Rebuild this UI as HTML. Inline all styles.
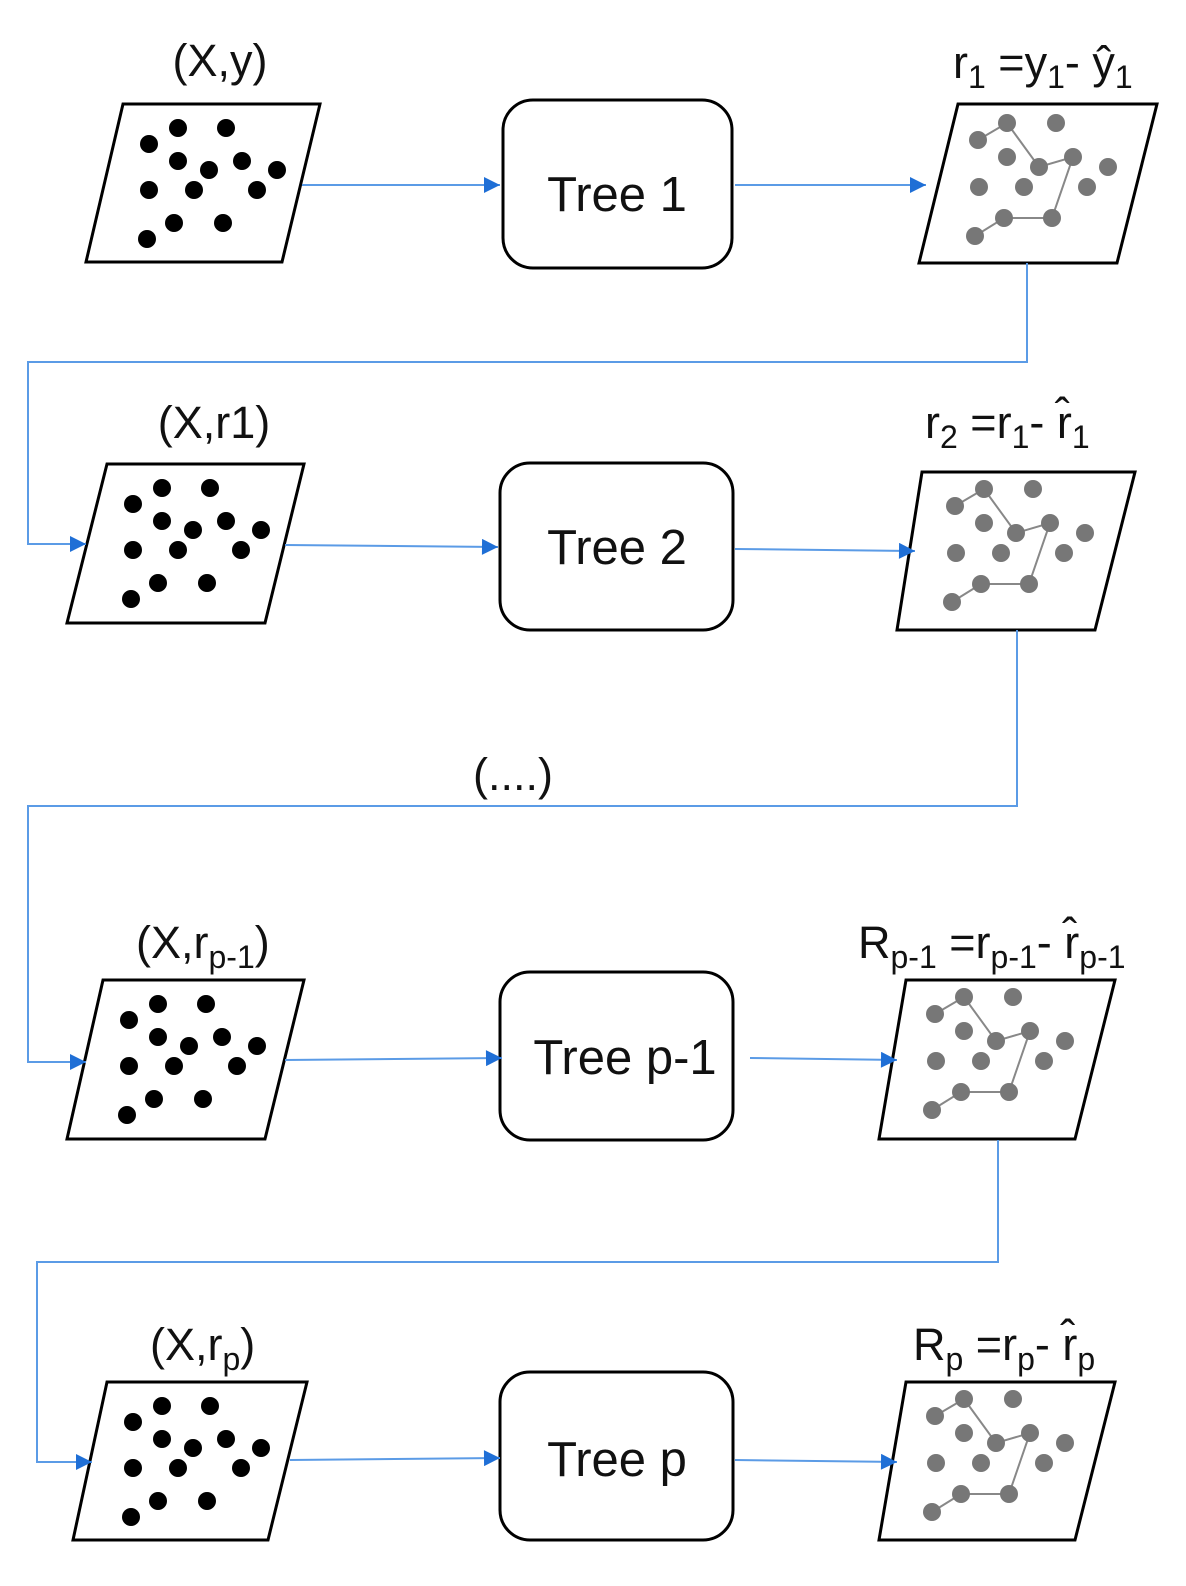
<!DOCTYPE html>
<html><head><meta charset="utf-8"><style>html,body{margin:0;padding:0;background:#fff}svg{display:block}</style></head>
<body>
<svg width="1186" height="1586" viewBox="0 0 1186 1586" xmlns="http://www.w3.org/2000/svg" font-family="Liberation Sans, DejaVu Sans, sans-serif">
<defs>
<g id="bd" fill="#000">
<circle cx="55" cy="24" r="9"/><circle cx="103" cy="24" r="9"/><circle cx="26" cy="40" r="9"/><circle cx="55" cy="57" r="9"/><circle cx="86" cy="66" r="9"/><circle cx="119" cy="57" r="9"/><circle cx="154" cy="66" r="9"/><circle cx="26" cy="86" r="9"/><circle cx="71" cy="86" r="9"/><circle cx="134" cy="86" r="9"/><circle cx="51" cy="119" r="9"/><circle cx="100" cy="119" r="9"/><circle cx="24" cy="135" r="9"/>
</g>
<g id="gd">
<polyline points="20,36 49,19 81,63 115,53 94,114 46,114 17,132" fill="none" stroke="#888" stroke-width="2"/>
<g fill="#777">
<circle cx="49" cy="19" r="9"/><circle cx="98" cy="19" r="9"/><circle cx="20" cy="36" r="9"/><circle cx="49" cy="53" r="9"/><circle cx="81" cy="63" r="9"/><circle cx="115" cy="53" r="9"/><circle cx="150" cy="63" r="9"/><circle cx="21" cy="83" r="9"/><circle cx="66" cy="83" r="9"/><circle cx="129" cy="83" r="9"/><circle cx="46" cy="114" r="9"/><circle cx="94" cy="114" r="9"/><circle cx="17" cy="132" r="9"/>
</g></g>
<marker id="a2" viewBox="0 0 10 10" markerWidth="18" markerHeight="16" refX="10" refY="5" orient="auto" markerUnits="userSpaceOnUse"><path d="M0,0 L10,5 L0,10 z" fill="#1f6fd6"/></marker>
</defs>

<g fill="none" stroke="#000" stroke-width="3">
<polygon points="123,104 320,104 282,262 86,262" fill="#fff"/>
<polygon points="958,104 1157,104 1117,263 919,263" fill="#fff"/>
<polygon points="107,464 304,464 265,623 67,623" fill="#fff"/>
<polygon points="922,472 1135,472 1095,630 897,630" fill="#fff"/>
<polygon points="103,980 304,980 265,1139 67,1139" fill="#fff"/>
<polygon points="906,980 1115,980 1075,1139 879,1139" fill="#fff"/>
<polygon points="107,1382 307,1382 268,1540 73,1540" fill="#fff"/>
<polygon points="906,1382 1115,1382 1075,1540 879,1540" fill="#fff"/>
<rect x="503" y="100" width="229" height="168" rx="30"/>
<rect x="500" y="463" width="233" height="167" rx="30"/>
<rect x="500" y="972" width="233" height="168" rx="30"/>
<rect x="500" y="1372" width="233" height="168" rx="30"/>
</g>

<use href="#bd" x="123" y="104"/>
<use href="#bd" x="107" y="464"/>
<use href="#bd" x="103" y="980"/>
<use href="#bd" x="107" y="1382"/>
<use href="#gd" x="958" y="104"/>
<use href="#gd" x="935" y="470"/>
<use href="#gd" x="915" y="978"/>
<use href="#gd" x="915" y="1380"/>

<g fill="none" stroke="#5b9be6" stroke-width="2">
<line x1="302" y1="185" x2="500" y2="185" marker-end="url(#a2)"/>
<line x1="735" y1="185" x2="926" y2="185" marker-end="url(#a2)"/>
<polyline points="1027,263 1027,362 28,362 28,544 86,544" marker-end="url(#a2)"/>
<line x1="285" y1="545" x2="498" y2="547" marker-end="url(#a2)"/>
<line x1="735" y1="549" x2="915" y2="551" marker-end="url(#a2)"/>
<polyline points="1017,630 1017,806 28,806 28,1062 86,1062" marker-end="url(#a2)"/>
<line x1="285" y1="1060" x2="502" y2="1058" marker-end="url(#a2)"/>
<line x1="750" y1="1058" x2="897" y2="1060" marker-end="url(#a2)"/>
<polyline points="998,1140 998,1262 37,1262 37,1462 92,1462" marker-end="url(#a2)"/>
<line x1="290" y1="1460" x2="500" y2="1458" marker-end="url(#a2)"/>
<line x1="735" y1="1460" x2="897" y2="1462" marker-end="url(#a2)"/>
</g>

<g font-size="49" fill="#111" text-anchor="middle">
<text x="617" y="211">Tree 1</text>
<text x="617" y="564">Tree 2</text>
<text x="625" y="1074">Tree p-1</text>
<text x="617" y="1476">Tree p</text>
</g>

<g font-size="45" fill="#111">
<text x="220" y="76" text-anchor="middle">(X,y)</text>
<text x="214" y="438" text-anchor="middle">(X,r1)</text>
<text x="513" y="790" text-anchor="middle">(....)</text>
<text x="136" y="958">(X,r<tspan font-size="32" dy="10">p-1</tspan><tspan dy="-10">)</tspan></text>
<text x="150" y="1360">(X,r<tspan font-size="32" dy="10">p</tspan><tspan dy="-10">)</tspan></text>
<text x="953" y="78">r<tspan font-size="32" dy="10">1</tspan><tspan dy="-10"> =y</tspan><tspan font-size="32" dy="10">1</tspan><tspan dy="-10">- ŷ</tspan><tspan font-size="32" dy="10">1</tspan></text>
<text x="925" y="438">r<tspan font-size="32" dy="10">2</tspan><tspan dy="-10"> =r</tspan><tspan font-size="32" dy="10">1</tspan><tspan dy="-10">- r̂</tspan><tspan font-size="32" dy="10">1</tspan></text>
<text x="858" y="958">R<tspan font-size="32" dy="10">p-1</tspan><tspan dy="-10"> =r</tspan><tspan font-size="32" dy="10">p-1</tspan><tspan dy="-10">- r̂</tspan><tspan font-size="32" dy="10">p-1</tspan></text>
<text x="913" y="1360">R<tspan font-size="32" dy="10">p</tspan><tspan dy="-10"> =r</tspan><tspan font-size="32" dy="10">p</tspan><tspan dy="-10">- r̂</tspan><tspan font-size="32" dy="10">p</tspan></text>
</g>
</svg>
</body></html>
